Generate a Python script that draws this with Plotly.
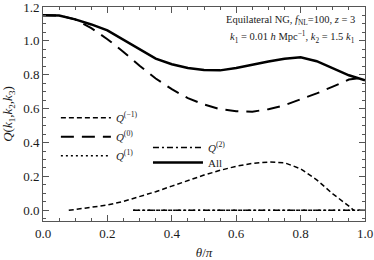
import plotly.graph_objects as go

# ---- data ----
theta = [0.0, 0.05, 0.1, 0.15, 0.2, 0.25, 0.3, 0.35, 0.4, 0.45, 0.5,
         0.55, 0.6, 0.65, 0.7, 0.75, 0.8, 0.85, 0.9, 0.95, 1.0]
q_all = [1.152, 1.15, 1.127, 1.097, 1.062, 1.005, 0.948, 0.895, 0.862, 0.84, 0.828,
         0.826, 0.84, 0.86, 0.878, 0.895, 0.903, 0.88, 0.84, 0.797, 0.768]
q_0 = [1.152, 1.15, 1.127, 1.075, 1.01, 0.935, 0.853, 0.778, 0.715, 0.662, 0.625,
       0.597, 0.585, 0.582, 0.597, 0.62, 0.655, 0.69, 0.73, 0.772, 0.785]

theta_m1 = [0.08, 0.1, 0.15, 0.2, 0.25, 0.3, 0.35, 0.4, 0.45, 0.5, 0.55,
            0.6, 0.65, 0.7, 0.75, 0.8, 0.85, 0.9, 0.95, 0.965]
q_m1 = [0.0, 0.005, 0.016, 0.031, 0.053, 0.08, 0.11, 0.143, 0.177, 0.208, 0.236,
        0.26, 0.277, 0.285, 0.281, 0.245, 0.18, 0.097, 0.025, 0.0]

theta_hi = [0.28, 1.0]
q_1 = [0.0, 0.0]
q_2 = [0.0, 0.0]

x_ticks = [0.0, 0.2, 0.4, 0.6, 0.8, 1.0]
y_ticks = [0.0, 0.2, 0.4, 0.6, 0.8, 1.0, 1.2]

FONT = "Liberation Serif"
INK = "#1a1a1a"
AXC = "#555555"

fig = go.Figure()

fig.add_trace(go.Scatter(x=theta_m1, y=q_m1, mode="lines", name="<i>Q</i><sup>(−1)</sup>",
                         line=dict(color="black", width=1.5, dash="5px,3px"),
                         legend="legend"))
fig.add_trace(go.Scatter(x=theta, y=q_0, mode="lines", name="<i>Q</i><sup>(0)</sup>",
                         line=dict(color="black", width=2, dash="13px,8px"),
                         legend="legend"))
fig.add_trace(go.Scatter(x=theta_hi, y=q_1, mode="lines", name="<i>Q</i><sup>(1)</sup>",
                         line=dict(color="black", width=1.5, dash="2px,3px"),
                         legend="legend"))
fig.add_trace(go.Scatter(x=theta_hi, y=q_2, mode="lines", name="<i>Q</i><sup>(2)</sup>",
                         line=dict(color="black", width=1.5, dash="6px,3px,2px,3px"),
                         legend="legend2"))
fig.add_trace(go.Scatter(x=theta, y=q_all, mode="lines", name="All",
                         line=dict(color="black", width=2.5),
                         legend="legend3"))

axis_common = dict(
    showgrid=False, zeroline=False, showline=True, linecolor=AXC, linewidth=1,
    mirror="allticks", ticks="inside", ticklen=6, tickwidth=1, tickcolor=AXC,
    tickfont=dict(family=FONT, size=13, color=INK), automargin=False,
    ticklabeloverflow="allow",
)

leg_common = dict(xanchor="left", yanchor="top", bgcolor="rgba(0,0,0,0)",
                  font=dict(family=FONT, size=11, color=INK),
                  traceorder="normal", itemwidth=50)

fig.update_layout(
    width=374, height=260,
    margin=dict(l=43, r=9, t=7, b=39, autoexpand=False),
    paper_bgcolor="white", plot_bgcolor="white",
    font=dict(family=FONT, color=INK),
    xaxis=dict(range=[0, 1], tickvals=x_ticks, ticktext=[f"{v:.1f}" for v in x_ticks],
               minor=dict(dtick=0.05, tick0=0, ticks="inside", ticklen=3, tickcolor=AXC),
               title=dict(text="<i>θ</i>/<i>π</i>", font=dict(family=FONT, size=13, color=INK)),
               **axis_common),
    yaxis=dict(range=[-0.063, 1.2], tickvals=y_ticks, ticktext=[f"{v:.1f}" for v in y_ticks],
               minor=dict(dtick=0.05, tick0=0, ticks="inside", ticklen=3, tickcolor=AXC),
               title=dict(text="<i>Q</i>(<i>k</i><sub>1</sub>,<i>k</i><sub>2</sub>,<i>k</i><sub>3</sub>)",
                          font=dict(family=FONT, size=13, color=INK)),
               **axis_common),
    legend=dict(x=0.04, y=0.55, **leg_common),
    legend2=dict(x=0.326, y=0.411, **leg_common),
    legend3=dict(x=0.326, y=0.341, **leg_common),
    annotations=[
        dict(text="Equilateral NG, <i>f</i><sub>NL</sub>=100, <i>z</i> = 3",
             x=0.976, y=0.935, xref="paper", yref="paper", xanchor="right", yanchor="middle",
             showarrow=False, font=dict(family=FONT, size=10.5, color=INK)),
        dict(text="<i>k</i><sub>1</sub> = 0.01 <i>h</i> Mpc<sup>−1</sup>, <i>k</i><sub>2</sub> = 1.5 <i>k</i><sub>1</sub>",
             x=0.976, y=0.86, xref="paper", yref="paper", xanchor="right", yanchor="middle",
             showarrow=False, font=dict(family=FONT, size=10.5, color=INK)),
    ],
)

fig.write_html("out.html", config={"displayModeBar": False},
               post_script="document.body.style.margin='0px';document.body.style.overflow='hidden';")
